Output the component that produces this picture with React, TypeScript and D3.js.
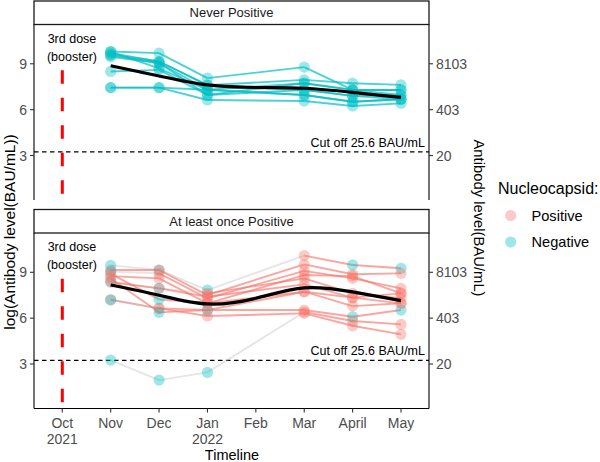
import React from "react";
import * as d3 from "d3";

// ---- data ----
const monthLabels: string[][] = [["Oct", "2021"], ["Nov"], ["Dec"], ["Jan", "2022"], ["Feb"], ["Mar"], ["April"], ["May"]];
const sampleMonths = [1, 2, 3, 5, 6, 7]; // Nov, Dec, Jan, Mar, Apr, May
const yTicks = [3, 6, 9];
const cutoffValue = 25.6;
const boosterMonth = 0;
const boosterRange = [0.5, 8.75];
const panelTitles = ["Never Positive", "At least once Positive"];
const legendLabels = ["Positive", "Negative"];

// Never positive subjects: log antibody values at sampleMonths
const neverPositive: (number | null)[][] = [
  [9.8, 9.7, 8.06, 8.78, 7.29, 7.29],
  [9.6, 9.15, 7.6, 7.95, 7.73, 7.62],
  [9.45, 9.05, 7.3, 7.73, 7.29, 6.96],
  [9.7, 9.15, 7.6, 7.29, 6.9, 6.68],
  [8.5, 8.6, 6.96, 7.29, 6.9, 6.96],
  [7.44, 7.44, 7.3, 6.96, 6.52, 6.68],
  [7.44, 7.44, 6.63, 6.57, 6.24, 6.41],
  [9.55, 9.05, 6.96, 7.73, 7.29, 7.29],
  [9.8, 8.7, 7.3, 6.96, 6.52, 6.68],
];
const neverSmooth = [8.87, 8.2, 7.62, 7.45, 7.4, 7.13, 6.8]; // Nov..May

// At least once positive subjects
const oncePositive: (number | null)[][] = [
  [9.45, 9.15, 7.84, 10.09, 9.48, 9.26],
  [9.15, 9.15, 7.51, 9.52, 8.87, 8.93],
  [9.05, 8.93, 7.3, 9.09, 8.6, 7.95],
  [8.75, 8.6, 6.97, 8.82, 8.75, 7.62],
  [8.4, 7.95, 7.62, 8.6, 7.62, 7.3],
  [8.35, 7.95, 7.4, 8.21, 7.34, 6.97],
  [7.2, 6.64, 6.14, 6.31, 5.5, 4.94],
  [7.2, 6.64, 6.53, 6.53, 6.09, 6.53],
  [3.26, 1.95, 2.45, 6.4, 5.81, 5.59],
  [8.9, 7.23, 6.97, 7.73, 7.34, 7.62],
  [8.6, 6.38, 6.53, 7.73, 6.79, 6.97],
];
const onceStatus: string[] = [
  "NNNPNN",
  "PPPPPP",
  "NPPPPP",
  "PPPPPP",
  "NNPPPP",
  "PPPPPP",
  "PPPPPP",
  "NPNPNN",
  "NNNPPP",
  "PNPPPP",
  "PNPPPP",
];
const onceSmooth = [8.17, 7.5, 6.93, 7.3, 7.98, 7.72, 7.15]; // Nov..May
const smoothMonths = [1, 2, 3, 4, 5, 6, 7];

// ---- layout ----
const W = 600;
const H = 462;
const FONT = "'Liberation Sans', Arial, sans-serif";
const PL = 34;
const PR = 429;
const panelTops = [24.5, 233];
const panelH = 175.5;
const stripH = 23.5;
const TEAL = "#00BFC4";
const SALMON = "#F8766D";

const x = d3.scaleLinear().domain([0, 7]).range([62.3, 401]);

function Panel({ idx }: { idx: number }) {
  const top = panelTops[idx];
  const y = d3.scaleLinear().domain([0.09, 11.57]).range([top + panelH, top]);
  const subjects = idx === 0 ? neverPositive : oncePositive;
  const smooth = idx === 0 ? neverSmooth : onceSmooth;
  const statusOf = (s: number, j: number) => (idx === 0 ? "N" : onceStatus[s][j]);
  const smoothLine = d3
    .line<number>()
    .x((_, i) => x(smoothMonths[i]))
    .y((d) => y(d))
    .curve(d3.curveNatural);

  const segs: React.ReactNode[] = [];
  const pts: { cx: number; cy: number; st: string; k: string }[] = [];
  subjects.forEach((vals, s) => {
    let seenPos = false;
    for (let j = 0; j < vals.length; j++) {
      const v = vals[j];
      if (v == null) continue;
      const st = statusOf(s, j);
      pts.push({ cx: x(sampleMonths[j]), cy: y(v), st, k: `p${s}-${j}` });
      if (st === "P") seenPos = true;
      let n = j + 1;
      while (n < vals.length && vals[n] == null) n++;
      if (n < vals.length) {
        const v2 = vals[n] as number;
        let stroke = TEAL;
        let op = 0.7;
        if (idx === 1) {
          if (!seenPos) {
            stroke = "#BEBEBE";
            op = 0.4;
          } else {
            stroke = SALMON;
            op = 0.65;
          }
        }
        segs.push(
          <line
            key={`s${s}-${j}`}
            x1={x(sampleMonths[j])}
            y1={y(v)}
            x2={x(sampleMonths[n])}
            y2={y(v2)}
            stroke={stroke}
            strokeOpacity={op}
            strokeWidth={1.9}
          />
        );
      }
    }
  });

  const cy = y(Math.log(cutoffValue));
  return (
    <g>
      <rect x={PL} y={top - stripH} width={PR - PL} height={stripH} fill="white" stroke="#1a1a1a" strokeWidth={1.3} />
      <text x={(PL + PR) / 2} y={top - stripH / 2} textAnchor="middle" dominantBaseline="central" fontSize={13} fill="#1a1a1a">
        {panelTitles[idx]}
      </text>
      <line x1={PL} x2={PR} y1={cy} y2={cy} stroke="black" strokeWidth={1.3} strokeDasharray="4.5,3.5" />
      <text x={PR - 4} y={cy - 5} textAnchor="end" fontSize={12.5} fill="black">
        Cut off 25.6 BAU/mL
      </text>
      <line
        x1={x(boosterMonth)}
        x2={x(boosterMonth)}
        y1={y(boosterRange[0])}
        y2={y(boosterRange[1])}
        stroke="#FF0000"
        strokeWidth={3}
        strokeDasharray="13.5,14"
      />
      <text x={x(boosterMonth + 0.2)} y={y(10.65)} textAnchor="middle" dominantBaseline="central" fontSize={12.5} fill="black">
        3rd dose
      </text>
      <text x={x(boosterMonth + 0.2)} y={y(9.45)} textAnchor="middle" dominantBaseline="central" fontSize={12.5} fill="black">
        (booster)
      </text>
      {segs}
      {pts.map((p) => (
        <circle key={p.k} cx={p.cx} cy={p.cy} r={5.6} fill={p.st === "P" ? SALMON : TEAL} fillOpacity={0.38} />
      ))}
      <path d={smoothLine(smooth) || ""} fill="none" stroke="black" strokeWidth={3.2} />
      <line x1={PL} x2={PL} y1={top} y2={top + panelH} stroke="black" strokeWidth={1.1} />
      <line x1={PR} x2={PR} y1={top} y2={top + panelH} stroke="black" strokeWidth={1.1} />
      {yTicks.map((t) => (
        <g key={t}>
          <line x1={PL - 4} x2={PL} y1={y(t)} y2={y(t)} stroke="#333" strokeWidth={1.1} />
          <text x={PL - 7} y={y(t)} textAnchor="end" dominantBaseline="central" fontSize={14} fill="#4D4D4D">
            {t}
          </text>
          <line x1={PR} x2={PR + 4} y1={y(t)} y2={y(t)} stroke="#333" strokeWidth={1.1} />
          <text x={PR + 7} y={y(t)} textAnchor="start" dominantBaseline="central" fontSize={14} fill="#4D4D4D">
            {Math.round(Math.exp(t))}
          </text>
        </g>
      ))}
      {idx === 1 && (
        <g>
          <line x1={PL} x2={PR} y1={top + panelH} y2={top + panelH} stroke="black" strokeWidth={1.1} />
          {monthLabels.map((lab, i) => (
            <g key={i}>
              <line x1={x(i)} x2={x(i)} y1={top + panelH} y2={top + panelH + 4} stroke="#333" strokeWidth={1.1} />
              {lab.map((l, k) => (
                <text key={k} x={x(i)} y={top + panelH + 14.5 + k * 15.5} textAnchor="middle" dominantBaseline="central" fontSize={14} fill="#4D4D4D">
                  {l}
                </text>
              ))}
            </g>
          ))}
        </g>
      )}
    </g>
  );
}

export default function App() {
  return (
    <svg width={W} height={H} style={{ position: "absolute", left: 0, top: 0, fontFamily: FONT }}>
      <rect width={W} height={H} fill="white" />
      <Panel idx={0} />
      <Panel idx={1} />
      <text x={232} y={455} textAnchor="middle" dominantBaseline="central" fontSize={14.5} fill="black">
        Timeline
      </text>
      <text transform="translate(9.5,232) rotate(-90)" textAnchor="middle" dominantBaseline="central" fontSize={15.5} fill="black">
        log(Antibody level(BAU/mL))
      </text>
      <text transform="translate(479,218) rotate(90)" textAnchor="middle" dominantBaseline="central" fontSize={14.8} fill="black">
        Antibody level(BAU/mL)
      </text>
      <text x={498} y={188} dominantBaseline="central" fontSize={16} fill="black">
        Nucleocapsid:
      </text>
      {legendLabels.map((l, i) => (
        <g key={l}>
          <circle cx={510.7} cy={215.5 + i * 26.5} r={5.6} fill={i === 0 ? SALMON : TEAL} fillOpacity={0.38} />
          <text x={531.5} y={215.5 + i * 26.5} dominantBaseline="central" fontSize={14.6} fill="black">
            {l}
          </text>
        </g>
      ))}
    </svg>
  );
}
